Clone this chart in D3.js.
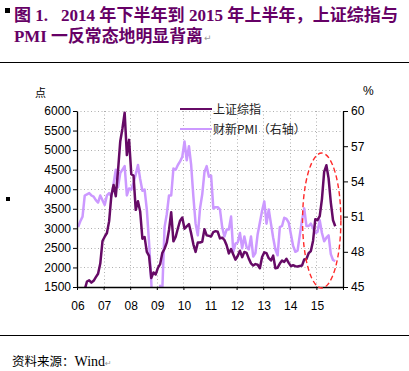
<!doctype html>
<html lang="zh">
<head>
<meta charset="utf-8">
<title>上证综指与PMI</title>
<script src="https://cdnjs.cloudflare.com/ajax/libs/d3/7.8.5/d3.min.js"></script>
<style>
  body { margin: 0; background: #fff; }
  svg { display: block; }
  text { white-space: pre; }
</style>
</head>
<body>
<svg width="409" height="371" id="svg"></svg>
<script>
// month series start Jan 2006, end Sep 2015
var startYear = 2006;
var yearLabels = ['06', '07', '08', '09', '10', '11', '12', '13', '14', '15'];

var shIndex = [
  1258, 1299, 1298, 1440, 1641, 1672, 1613, 1659, 1752, 1838, 2099, 2675,
  2786, 2881, 3184, 3841, 4110, 3821, 4471, 5219, 5552, 5955, 4872, 5262,
  4383, 4349, 3473, 3693, 3433, 2736, 2776, 2397, 2294, 1729, 1871, 1821,
  1991, 2083, 2373, 2478, 2633, 2959, 3412, 2668, 2779, 2996, 3195, 3277,
  2989, 3052, 3109, 2871, 2592, 2398, 2638, 2639, 2656, 2979, 2820, 2808,
  2791, 2905, 2928, 2912, 2743, 2762, 2702, 2567, 2359, 2468, 2333, 2199,
  2293, 2428, 2263, 2396, 2372, 2225, 2104, 2048, 2086, 2069, 1980, 2269,
  2385, 2366, 2237, 2178, 2301, 1979, 1994, 2098, 2175, 2142, 2221, 2116,
  2033, 2056, 2033, 2026, 2039, 2048, 2202, 2217, 2364, 2420, 2683, 3235,
  3210, 3310, 3748, 4442, 4612, 4277, 3664, 3206, 3053
];

var pmi = [
  50.1, 50.6, 51.0, 52.8, 52.9, 53.0, 52.8, 52.7, 52.4, 52.2, 52.8, 52.4,
  52.0, 52.8, 53.0, 52.7, 53.8, 55.0, 53.5, 54.7, 55.0, 55.3, 52.8, 53.4,
  53.3, 53.9, 54.6, 55.4, 54.2, 53.2, 53.3, 51.6, 48.8, 45.5, 40.9, 41.2,
  42.2, 45.1, 44.8, 50.1, 51.2, 52.8, 52.8, 55.1, 55.0, 55.4, 55.7, 56.1,
  57.4, 55.8, 57.0, 55.4, 52.7, 50.4, 49.4, 51.7, 52.9, 54.8, 55.3, 54.4,
  54.5, 51.7, 51.8, 51.8, 51.6, 50.1, 49.3, 49.9, 49.9, 51.0, 48.0, 48.7,
  48.8, 49.6, 48.3, 49.3, 48.4, 48.2, 49.3, 47.6, 47.9, 49.5, 50.5, 51.5,
  52.3, 50.4, 51.6, 50.4, 49.2, 48.2, 47.7, 50.1, 50.2, 50.9, 50.8, 50.5,
  49.5, 48.5, 48.0, 48.1, 49.4, 50.7, 51.7, 50.2, 50.2, 50.4, 50.0, 49.6,
  49.7, 50.7, 49.6, 48.9, 49.2, 49.4, 47.8, 47.3, 47.2
];

var leftTicks = [1500, 2000, 2500, 3000, 3500, 4000, 4500, 5000, 5500, 6000];
var rightTicks = [45, 48, 51, 54, 57, 60];
var seriesNames = ['上证综指', '财新PMI（右轴）'];

var purple = '#660a66', lilac = '#cc99ff', titleColor = '#660066';

var plotLeft = 77, plotRight = 343, plotTop = 111, plotBottom = 287;

var svg = d3.select('#svg');

var x = d3.scaleLinear().domain([2006, 2016]).range([plotLeft, plotRight]);
var yL = d3.scaleLinear().domain([1500, 6000]).range([plotBottom, plotTop]);
var yR = d3.scaleLinear().domain([45, 60]).range([plotBottom, plotTop]);

function monthX(i) { return x(startYear + (i + 0.5) / 12); }

// title
svg.append('rect').attr('x', 5).attr('y', 8).attr('width', 5).attr('height', 5).attr('fill', '#000');
var title = svg.append('g')
  .attr('fill', titleColor)
  .attr('font-weight', 'bold')
  .attr('font-family', '"Liberation Serif", "Noto Sans CJK SC", serif')
  .attr('font-size', 16.5);
title.append('text').attr('x', 14).attr('y', 20.5)
  .attr('textLength', 384).attr('lengthAdjust', 'spacingAndGlyphs')
  .text('图 1.\u00a0\u00a0 2014 年下半年到 2015 年上半年，上证综指与');
title.append('text').attr('x', 14).attr('y', 41.5)
  .attr('textLength', 189).attr('lengthAdjust', 'spacingAndGlyphs')
  .text('PMI 一反常态地明显背离');
svg.append('text').attr('x', 204).attr('y', 41).attr('font-size', 9)
  .attr('fill', '#999').attr('font-family', '"DejaVu Sans"').text('↵');

svg.append('line').attr('x1', 0).attr('x2', 409).attr('y1', 62.5).attr('y2', 62.5)
  .attr('stroke', '#000').attr('stroke-width', 1.2);
svg.append('line').attr('x1', 0).attr('x2', 409).attr('y1', 335.5).attr('y2', 335.5)
  .attr('stroke', '#000').attr('stroke-width', 1.2);

svg.append('rect').attr('x', 6).attr('y', 197).attr('width', 4).attr('height', 4).attr('fill', '#000');

// gridlines
var grid = svg.append('g').attr('stroke', '#b0b0b0').attr('stroke-dasharray', '1,2.5').attr('stroke-width', 1);
grid.selectAll('.h').data(leftTicks.slice(1)).enter().append('line')
  .attr('x1', plotLeft).attr('x2', plotRight)
  .attr('y1', function(d) { return Math.round(yL(d)) + 0.5; })
  .attr('y2', function(d) { return Math.round(yL(d)) + 0.5; });
grid.selectAll('.v').data(yearLabels.slice(1)).enter().append('line')
  .attr('y1', plotTop).attr('y2', plotBottom)
  .attr('x1', function(d, i) { return Math.round(x(startYear + i + 1)) + 0.5; })
  .attr('x2', function(d, i) { return Math.round(x(startYear + i + 1)) + 0.5; });

// lines
svg.append('clipPath').attr('id', 'plot').append('rect')
  .attr('x', plotLeft).attr('y', plotTop - 2)
  .attr('width', plotRight - plotLeft).attr('height', plotBottom - plotTop + 2);

var lineL = d3.line().x(function(d, i) { return monthX(i); }).y(function(d) { return yL(d); });
var lineR = d3.line().x(function(d, i) { return monthX(i); }).y(function(d) { return yR(d); });

var plot = svg.append('g').attr('clip-path', 'url(#plot)');
plot.append('path').attr('d', lineR(pmi))
  .attr('fill', 'none').attr('stroke', lilac).attr('stroke-width', 2.5).attr('stroke-linejoin', 'round');
plot.append('path').attr('d', lineL(shIndex))
  .attr('fill', 'none').attr('stroke', purple).attr('stroke-width', 2.5).attr('stroke-linejoin', 'round');

// axes
var axisFont = '"Liberation Sans", Arial, sans-serif';
var gL = svg.append('g').attr('transform', 'translate(' + plotLeft + ',0)')
  .call(d3.axisLeft(yL).tickValues(leftTicks).tickFormat(d3.format('d'))
    .tickSize(4).tickSizeOuter(0).tickPadding(2));
var gR = svg.append('g').attr('transform', 'translate(' + plotRight + ',0)')
  .call(d3.axisRight(yR).tickValues(rightTicks).tickFormat(d3.format('d'))
    .tickSize(5).tickSizeOuter(0).tickPadding(3));
var gB = svg.append('g').attr('transform', 'translate(0,' + plotBottom + ')')
  .call(d3.axisBottom(x).tickValues(d3.range(2006, 2017)).tickFormat('').tickSize(3).tickSizeOuter(0));
[gL, gR, gB].forEach(function(g) {
  g.select('.domain').attr('stroke', '#000').attr('stroke-width', 1.3);
  g.selectAll('.tick line').attr('stroke', '#000');
  g.selectAll('text').attr('font-family', axisFont).attr('font-size', 12).attr('fill', '#000');
});

svg.append('g').selectAll('text').data(yearLabels).enter().append('text')
  .attr('x', function(d, i) { return x(startYear + i) + 1; })
  .attr('y', 310)
  .attr('text-anchor', 'middle')
  .attr('font-family', axisFont).attr('font-size', 12)
  .text(function(d) { return d; });

svg.append('text').attr('x', 35).attr('y', 97).attr('font-size', 11)
  .attr('font-family', '"Noto Sans CJK SC"').text('点');
svg.append('text').attr('x', 363).attr('y', 95).attr('font-size', 12)
  .attr('font-family', axisFont).text('%');

// legend
var legend = svg.append('g').selectAll('g').data(seriesNames).enter().append('g')
  .attr('transform', function(d, i) { return 'translate(180,' + (109 + i * 20) + ')'; });
legend.append('line').attr('x1', 0).attr('x2', 32)
  .attr('stroke', function(d, i) { return i ? lilac : purple; }).attr('stroke-width', 2);
legend.append('text').attr('x', 33).attr('y', 5)
  .attr('font-family', '"Noto Sans CJK SC"').attr('font-size', 12).attr('fill', '#222')
  .text(function(d) { return d; });

// highlight 2015 divergence
svg.append('ellipse')
  .attr('cx', x(2015.2)).attr('cy', yL(3200))
  .attr('rx', x(2015.92) - x(2015.2)).attr('ry', yL(1500) - yL(3200) + 1)
  .attr('fill', 'none').attr('stroke', '#ff2a2a').attr('stroke-width', 1.4)
  .attr('stroke-dasharray', '5,3');

// source
var src = svg.append('text').attr('x', 12).attr('y', 366).attr('font-size', 12.5)
  .attr('font-family', '"Noto Sans CJK SC"');
src.append('tspan').text('资料来源：');
src.append('tspan').attr('font-family', '"Liberation Serif"').attr('font-size', 14).text('Wind');
src.append('tspan').attr('font-family', '"DejaVu Sans"').attr('font-size', 8).attr('fill', '#999').text('↵');
</script>
</body>
</html>
